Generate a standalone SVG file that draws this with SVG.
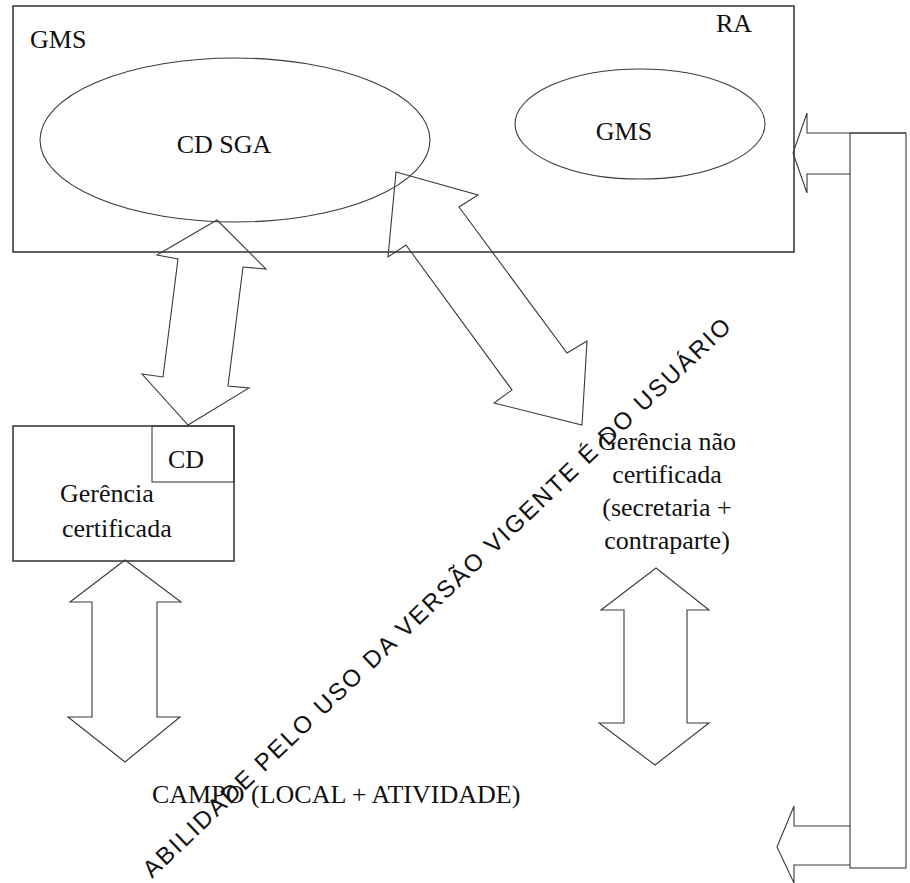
<svg xmlns="http://www.w3.org/2000/svg" width="910" height="883" viewBox="0 0 910 883">
<style>
.ln{fill:none;stroke:#3a3a3a;stroke-width:1.1;stroke-linejoin:miter}
.bx{fill:none;stroke:#222;stroke-width:1.4}
.t{font-family:"Liberation Serif","Times New Roman",serif;font-size:26px;fill:#111}
.wm{font-family:"Liberation Sans",Arial,sans-serif;font-size:24px;fill:#111}
</style>
<rect width="910" height="883" fill="#fff"/>
<g id="node-ra">
  <rect class="bx" x="13" y="6" width="781" height="246"/>
  <text class="t" x="30" y="48">GMS</text>
  <text class="t" x="716" y="32">RA</text>
</g>
<g id="node-cdsga">
  <ellipse class="ln" cx="235" cy="140" rx="195" ry="82"/>
  <text class="t" x="224" y="153" text-anchor="middle">CD SGA</text>
</g>
<g id="node-gms">
  <ellipse class="ln" cx="640" cy="124" rx="125" ry="55"/>
  <text class="t" x="624" y="140" text-anchor="middle">GMS</text>
</g>
<g id="node-gerencia-cert">
  <rect class="bx" x="13" y="426" width="221" height="135"/>
  <rect class="ln" x="152" y="426" width="82" height="56"/>
  <text class="t" x="168" y="468">CD</text>
  <text class="t" x="60" y="502">Gerência</text>
  <text class="t" x="62" y="537">certificada</text>
</g>
<g id="node-gerencia-nao">
  <text class="t" text-anchor="middle" x="667" y="450">Gerência não</text>
  <text class="t" text-anchor="middle" x="667" y="483">certificada</text>
  <text class="t" text-anchor="middle" x="667" y="516">(secretaria +</text>
  <text class="t" text-anchor="middle" x="667" y="549">contraparte)</text>
</g>
<g id="node-campo">
  <text class="t" x="152" y="803">CAMPO (LOCAL + ATIVIDADE)</text>
</g>
<g id="connectors">
  <polygon class="ln" points="217,220 266,269 243,267 228,386 249,388 188,425 142,374 163,377 178,259 157,255"/>
  <polygon class="ln" points="396,172 478,195 459,207 567,353 587,341 582,425 494,403 512,390 406,245 388,257"/>
  <polygon class="ln" points="125,560 181,602 157,602 157,717 180,717 125,762 68,717 92,717 92,602 70,602"/>
  <polygon class="ln" points="656,568 709,610 687,610 687,723 709,723 655,765 599,723 624,723 624,610 601,610"/>
  <rect class="ln" x="850" y="133" width="56" height="735"/>
  <polyline class="ln" points="850,174 807,174 807,193 793,153 807,113 807,133 906,133"/>
  <polyline class="ln" points="850,826 794,826 794,806 777,847 794,883 794,865 850,865"/>
</g>
<g id="watermark">
  <text class="wm" transform="translate(152,879) rotate(-43.5)" textLength="800" lengthAdjust="spacing">ABILIDADE PELO USO DA VERSÃO VIGENTE É DO USUÁRIO</text>
</g>
</svg>
